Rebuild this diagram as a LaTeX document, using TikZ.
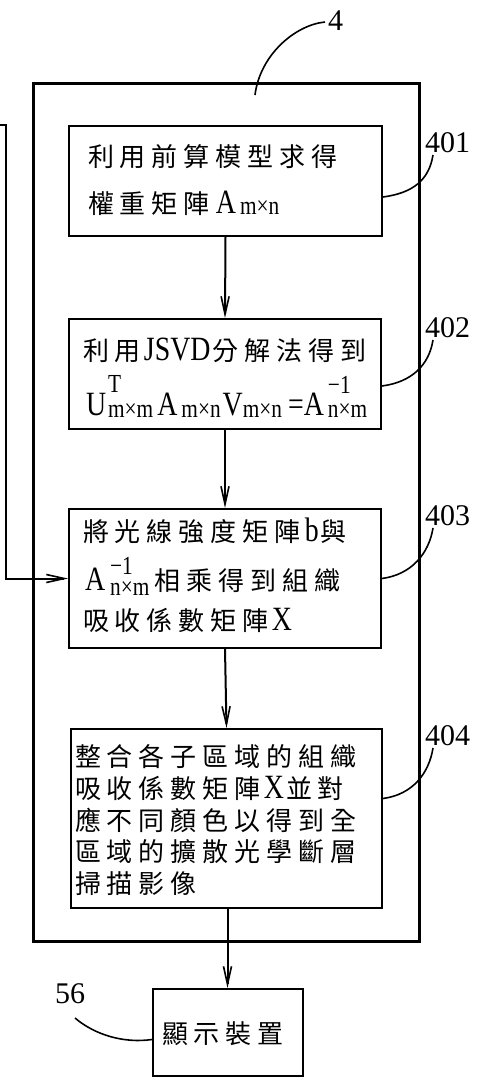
\documentclass[tikz,border=0pt]{standalone}
\usepackage{fontspec}
\setmainfont{Liberation Serif}
\newfontfamily\cjk[LetterSpace=23]{Noto Sans CJK TC}
\newfontfamily\latf[FakeStretch=0.82]{Liberation Serif}
\newfontfamily\smf[FakeStretch=0.82]{Liberation Serif}
\usetikzlibrary{arrows.meta}
\newcommand\C[1]{{\cjk\fontsize{26}{31}\selectfont #1}}
\newcommand\lat[1]{{\latf\fontsize{34}{34}\selectfont #1}}
\newcommand\sml[1]{{\smf\fontsize{26}{26}\selectfont #1}}
\newcommand\sbs[2][0pt]{\raisebox{-#1}{\sml{#2}}}
\newcommand\sps[4]{\rlap{\raisebox{#1}{\sml{#3}}}\raisebox{-#2}{\sml{#4}}}
\tikzset{
  box/.style={draw, line width=2pt, anchor=north west, inner sep=0pt},
  outerbox/.style={draw, line width=3.2pt, anchor=north west, inner sep=0pt},
  txt/.style={anchor=base west, inner sep=0pt, outer sep=0pt},
  num/.style={anchor=base west, inner sep=0pt, font=\fontsize{30}{30}\selectfont},
  arr/.style={line width=2pt, -{Straight Barb[length=18pt,width=8pt,line width=1.6pt]}},
  lead/.style={line width=1.6pt},
}
\begin{document}
\begin{tikzpicture}[x=1pt,y=-1pt]
\useasboundingbox (0,0) rectangle (477,1079);
% boxes
\node[outerbox, minimum width=386pt, minimum height=858pt] (b4) at (32,82) {};
\node[box, minimum width=313pt, minimum height=110pt] (b401) at (68,125) {};
\node[box, minimum width=312pt, minimum height=110pt] (b402) at (68,318) {};
\node[box, minimum width=312pt, minimum height=139pt] (b403) at (68,508) {};
\node[box, minimum width=311pt, minimum height=179pt] (b404) at (70,728) {};
\node[box, minimum width=150pt, minimum height=87pt] (b56) at (152,988) {};
% texts 401
\node[txt] (t401a) at (88,166) {\C{利用前算模型求得}};
\node[txt] (t401b) at (88,213) {\C{權重矩陣}\hspace{6pt}\lat{A}\hspace{4pt}\sbs[1pt]{m×n}};
% texts 402
\node[txt] (t402a) at (83,360) {\C{利用}\hspace{3pt}\lat{JSVD}\hspace{2pt}\C{分解法得到}};
\node[txt] (t402b) at (86,415) {\lat{U}\hspace{2pt}\sps{23pt}{2pt}{T}{m×m}\hspace{4pt}\lat{A}\hspace{4pt}\sbs[2pt]{m×n}\hspace{2pt}\lat{V}\sbs[2pt]{m×n}\hspace{6pt}\lat{=A}\hspace{4pt}\sps{22pt}{2pt}{−1}{n×m}};
% texts 403
\node[txt] (t403a) at (83,541) {\C{將光線強度矩陣}\hspace{4pt}\lat{b}\hspace{2pt}\C{與}};
\node[txt] (t403b) at (85,590) {\lat{A}\hspace{5pt}\sps{16pt}{5pt}{−1}{n×m}\hspace{5pt}\C{相乘得到組織}};
\node[txt] (t403c) at (83,630) {\C{吸收係數矩陣}\hspace{3pt}\lat{X}};
% texts 404
\node[txt] (t404a) at (75,766) {\C{整合各子區域的組織}};
\node[txt] (t404b) at (75,798) {\C{吸收係數矩陣}\hspace{3pt}\lat{X}\hspace{2pt}\C{並對}};
\node[txt] (t404c) at (75,830) {\C{應不同顏色以得到全}};
\node[txt] (t404d) at (75,861) {\C{區域的擴散光學斷層}};
\node[txt] (t404e) at (75,893) {\C{掃描影像}};
% text 56
\node[txt] (t56) at (162,1043) {\C{顯示裝置}};
% numbers
\node[num] (l4) at (328,30) {4};
\node[num] (l401) at (425,152) {401};
\node[num] (l402) at (425,337) {402};
\node[num] (l403) at (425,525) {403};
\node[num] (l404) at (425,745) {404};
\node[num] (l56) at (55,1003) {56};
% leaders
\coordinate (p4) at (255,95);
\draw[lead] ([shift={(-3,-8)}]l4.base west) .. controls +(-30,3) and +(5,-40) .. (p4);
\draw[lead] ([shift={(8,3)}]l401.base west) .. controls +(-4,25) and +(30,-4) .. ([yshift=-16pt]b401.east);
\draw[lead] ([shift={(8,3)}]l402.base west) .. controls +(-4,25) and +(30,-4) .. ([yshift=-12pt]b402.east);
\draw[lead] ([shift={(8,3)}]l403.base west) .. controls +(-4,25) and +(30,-4) .. (b403.east);
\draw[lead] ([shift={(8,3)}]l404.base west) .. controls +(-4,25) and +(30,-4) .. ([yshift=20pt]b404.east);
\draw[lead] ([shift={(20,15)}]l56.base west) .. controls +(20,17) and +(-28,4) .. ([yshift=-7pt]b56.west);
% flow arrows
\draw[arr] (b401.south) -- (b402.north);
\draw[arr] (b402.south) -- (b403.north);
\draw[arr] (b403.south) -- (b404.north);
\draw[arr] ([xshift=1pt]b404.south) -- ([xshift=1pt]b404.south |- b56.north);
% feedback
\coordinate (fb) at (0,125);
\draw[arr] (fb) -- ++(6,0) |- (b403.west);
\end{tikzpicture}
\end{document}
